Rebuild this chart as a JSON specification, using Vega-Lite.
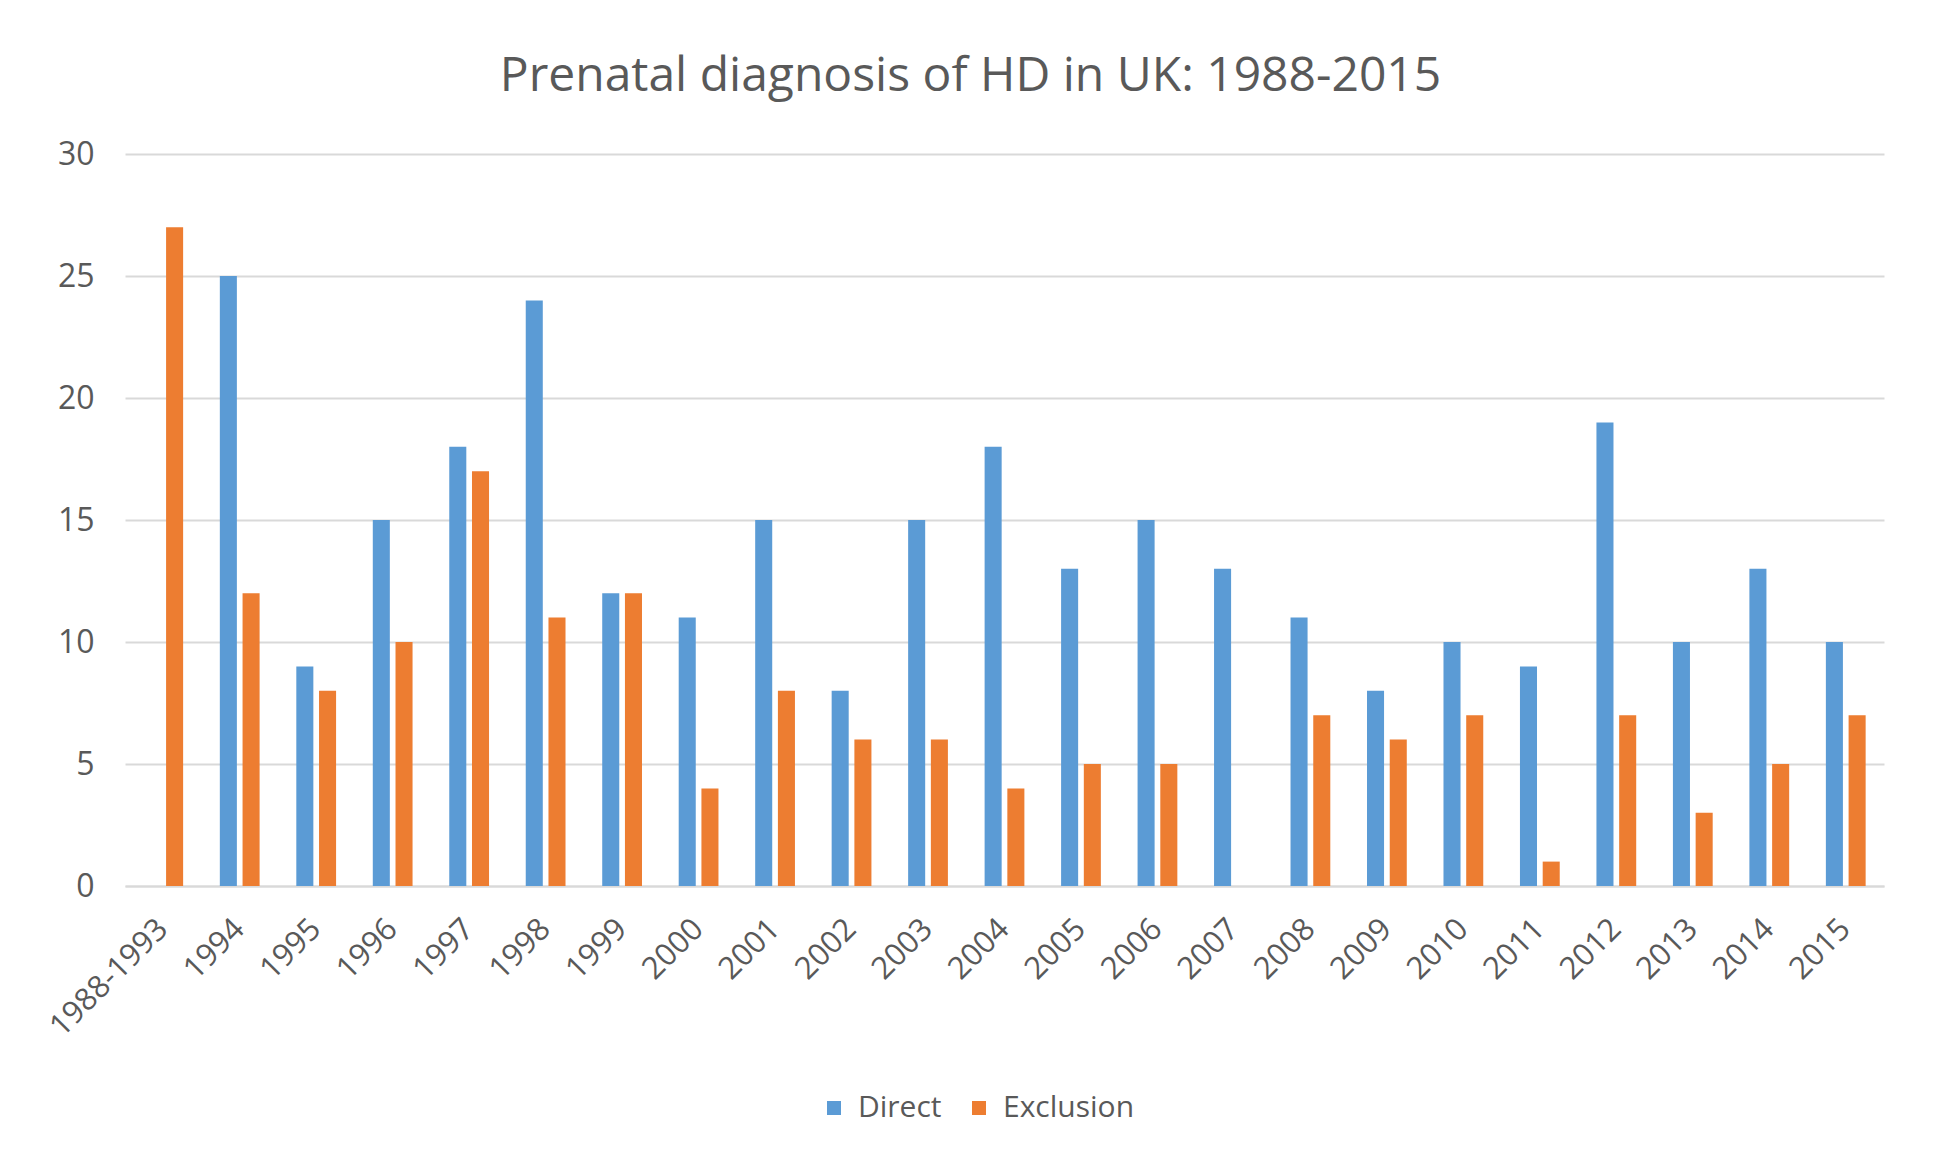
{
  "$schema": "https://vega.github.io/schema/vega-lite/v6.json",
  "width": 1759,
  "height": 732,
  "autosize": {"type": "none"},
  "padding": {"left": 125, "top": 154, "right": 51, "bottom": 273},
  "background": "white",
  "title": {
    "text": "Prenatal diagnosis of HD in UK: 1988-2015",
    "font": "Open Sans",
    "fontSize": 48,
    "fontWeight": "normal",
    "color": "#595959",
    "anchor": "middle",
    "offset": 37,
    "dx": -34
  },
  "data": {
    "values": [
      {"period": "1988-1993", "method": "Direct", "count": 0},
      {"period": "1988-1993", "method": "Exclusion", "count": 27},
      {"period": "1994", "method": "Direct", "count": 25},
      {"period": "1994", "method": "Exclusion", "count": 12},
      {"period": "1995", "method": "Direct", "count": 9},
      {"period": "1995", "method": "Exclusion", "count": 8},
      {"period": "1996", "method": "Direct", "count": 15},
      {"period": "1996", "method": "Exclusion", "count": 10},
      {"period": "1997", "method": "Direct", "count": 18},
      {"period": "1997", "method": "Exclusion", "count": 17},
      {"period": "1998", "method": "Direct", "count": 24},
      {"period": "1998", "method": "Exclusion", "count": 11},
      {"period": "1999", "method": "Direct", "count": 12},
      {"period": "1999", "method": "Exclusion", "count": 12},
      {"period": "2000", "method": "Direct", "count": 11},
      {"period": "2000", "method": "Exclusion", "count": 4},
      {"period": "2001", "method": "Direct", "count": 15},
      {"period": "2001", "method": "Exclusion", "count": 8},
      {"period": "2002", "method": "Direct", "count": 8},
      {"period": "2002", "method": "Exclusion", "count": 6},
      {"period": "2003", "method": "Direct", "count": 15},
      {"period": "2003", "method": "Exclusion", "count": 6},
      {"period": "2004", "method": "Direct", "count": 18},
      {"period": "2004", "method": "Exclusion", "count": 4},
      {"period": "2005", "method": "Direct", "count": 13},
      {"period": "2005", "method": "Exclusion", "count": 5},
      {"period": "2006", "method": "Direct", "count": 15},
      {"period": "2006", "method": "Exclusion", "count": 5},
      {"period": "2007", "method": "Direct", "count": 13},
      {"period": "2007", "method": "Exclusion", "count": 0},
      {"period": "2008", "method": "Direct", "count": 11},
      {"period": "2008", "method": "Exclusion", "count": 7},
      {"period": "2009", "method": "Direct", "count": 8},
      {"period": "2009", "method": "Exclusion", "count": 6},
      {"period": "2010", "method": "Direct", "count": 10},
      {"period": "2010", "method": "Exclusion", "count": 7},
      {"period": "2011", "method": "Direct", "count": 9},
      {"period": "2011", "method": "Exclusion", "count": 1},
      {"period": "2012", "method": "Direct", "count": 19},
      {"period": "2012", "method": "Exclusion", "count": 7},
      {"period": "2013", "method": "Direct", "count": 10},
      {"period": "2013", "method": "Exclusion", "count": 3},
      {"period": "2014", "method": "Direct", "count": 13},
      {"period": "2014", "method": "Exclusion", "count": 5},
      {"period": "2015", "method": "Direct", "count": 10},
      {"period": "2015", "method": "Exclusion", "count": 7}
    ]
  },
  "mark": {"type": "bar"},
  "encoding": {
    "x": {
      "field": "period",
      "type": "nominal",
      "sort": null,
      "scale": {"paddingInner": 0.48, "paddingOuter": 0.24},
      "axis": {
        "title": null,
        "labelAngle": -45,
        "labelAlign": "right",
        "labelBaseline": "middle",
        "labelPadding": 38,
        "ticks": false,
        "grid": false,
        "domainColor": "#D9D9D9",
        "domainWidth": 2,
        "labelFont": "Open Sans",
        "labelFontSize": 31,
        "labelColor": "#595959"
      }
    },
    "xOffset": {
      "field": "method",
      "type": "nominal",
      "sort": ["Direct", "Exclusion"],
      "scale": {"paddingInner": 0.25, "paddingOuter": 0}
    },
    "y": {
      "field": "count",
      "type": "quantitative",
      "scale": {"domain": [0, 30], "nice": false},
      "axis": {
        "title": null,
        "values": [0, 5, 10, 15, 20, 25, 30],
        "domain": false,
        "ticks": false,
        "labelPadding": 31,
        "gridColor": "#D9D9D9",
        "gridWidth": 2,
        "labelFont": "Open Sans",
        "labelFontSize": 32,
        "labelColor": "#595959"
      }
    },
    "color": {
      "field": "method",
      "type": "nominal",
      "scale": {"domain": ["Direct", "Exclusion"], "range": ["#5B9BD5", "#ED7D31"]},
      "legend": {
        "title": null,
        "orient": "none",
        "direction": "horizontal",
        "legendX": 694,
        "legendY": 939,
        "symbolType": "square",
        "symbolSize": 196,
        "symbolStrokeWidth": 0,
        "labelFont": "Open Sans",
        "labelFontSize": 30,
        "labelColor": "#595959",
        "labelOffset": 9,
        "columnPadding": 22,
        "padding": 0
      }
    }
  },
  "config": {"view": {"stroke": null}}
}
